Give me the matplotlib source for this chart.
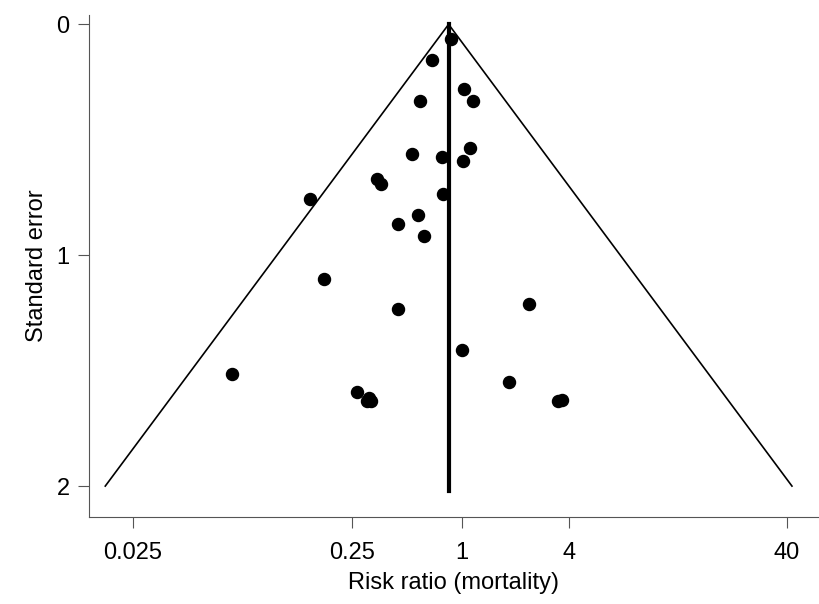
import numpy as np
import matplotlib
matplotlib.use("Agg")
import matplotlib.pyplot as plt

plt.rcParams["font.family"] = ["Liberation Sans", "DejaVu Sans"]

# risk ratios and standard errors
risk_ratio = [0.882, 0.710, 1.023, 1.134, 0.620, 1.095, 0.566, 0.796, 1.011,
              0.380, 0.397, 0.805, 0.177, 0.605, 0.482, 0.648, 0.207, 2.17,
              0.482, 1.00, 0.0727, 1.71, 0.302, 0.347, 0.339, 0.355, 2.99, 3.16]
std_err = [0.065, 0.156, 0.278, 0.334, 0.330, 0.534, 0.560, 0.573, 0.594,
           0.668, 0.690, 0.733, 0.755, 0.824, 0.863, 0.915, 1.102, 1.210,
           1.232, 1.410, 1.514, 1.549, 1.592, 1.618, 1.631, 1.631, 1.631, 1.627]
pooled_rr = 0.862
se_max = 2.0

# tick positions as drawn in the original, with its labels
tick_pos = [0.0235, 0.285, 1.0, 3.42, 41.0]
tick_labels = ["0.025", "0.25", "1", "4", "40"]

fig = plt.figure(figsize=(8.2, 6.04), dpi=100)
ax = fig.add_axes([0.1085, 0.144, 0.89, 0.831])

se = np.array([0, se_max])
lo = pooled_rr * np.exp(-1.96 * se)
hi = pooled_rr * np.exp(1.96 * se)
ax.plot(lo, se, color="black", lw=1.2)
ax.plot(hi, se, color="black", lw=1.2)
ax.plot([pooled_rr, pooled_rr], [0, se_max + 0.02], color="black", lw=3)
ax.scatter(risk_ratio, std_err, s=75, color="black", zorder=3)

ax.set_xscale("log")
ax.set_xlim(0.0142, 59)
ax.set_ylim(2.134, -0.04)
ax.set_xticks(tick_pos)
ax.set_xticklabels(tick_labels)
ax.minorticks_off()
ax.set_yticks([0, 1, 2])
ax.set_yticklabels(["0", "1", "2"])

for s in ["top", "right"]:
    ax.spines[s].set_visible(False)
for s in ["left", "bottom"]:
    ax.spines[s].set_color("#555555")
ax.tick_params(colors="#555555", labelcolor="black", labelsize=17, length=8, pad=10)
ax.tick_params(axis="y", pad=6)

ax.set_xlabel("Risk ratio (mortality)", fontsize=17, labelpad=6)
ax.set_ylabel("Standard error", fontsize=17, labelpad=6)

fig.savefig("out.png", dpi=100)
